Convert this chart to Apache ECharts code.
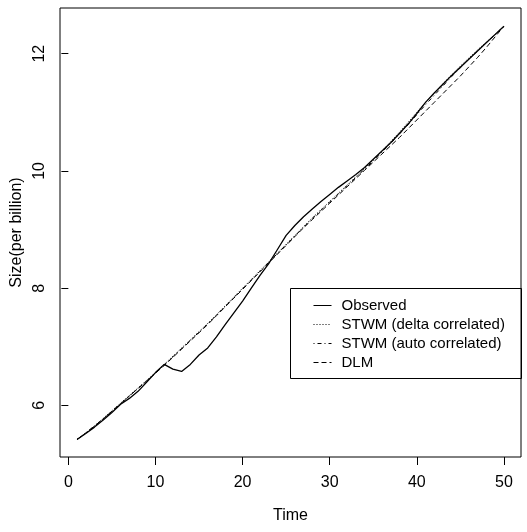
<!DOCTYPE html>
<html>
<head>
<meta charset="utf-8">
<script src="https://cdn.jsdelivr.net/npm/echarts@6/dist/echarts.min.js"></script>
<style>html,body{margin:0;padding:0;background:#fff;}#c{width:527px;height:532px;}</style>
</head>
<body>
<div id="c"></div>
<script>
const time = Array.from({length: 50}, (_, i) => i + 1);
const observed = [5.42,5.52,5.63,5.75,5.88,6.02,6.12,6.24,6.40,6.56,
  6.70,6.62,6.58,6.70,6.86,6.98,7.17,7.38,7.58,7.78,
  8.00,8.22,8.42,8.66,8.90,9.07,9.22,9.35,9.48,9.60,
  9.72,9.83,9.94,10.06,10.20,10.34,10.48,10.64,10.80,10.98,
  11.17,11.33,11.48,11.63,11.77,11.91,12.05,12.19,12.33,12.47];
const stwmDelta = [5.42,5.53,5.65,5.78,5.91,6.04,6.17,6.30,6.43,6.56,
  6.70,6.84,6.98,7.12,7.26,7.40,7.55,7.70,7.85,8.00,
  8.15,8.30,8.45,8.60,8.75,8.90,9.05,9.20,9.34,9.48,
  9.62,9.76,9.90,10.04,10.19,10.34,10.50,10.66,10.83,11.00,
  11.17,11.33,11.49,11.64,11.79,11.93,12.07,12.20,12.33,12.47];
const stwmAuto = [5.42,5.53,5.65,5.77,5.90,6.03,6.16,6.29,6.42,6.55,
  6.69,6.83,6.97,7.11,7.25,7.39,7.54,7.69,7.84,7.99,
  8.14,8.29,8.44,8.59,8.74,8.89,9.04,9.19,9.33,9.47,
  9.61,9.75,9.89,10.03,10.17,10.32,10.47,10.63,10.79,10.96,
  11.13,11.29,11.45,11.61,11.76,11.91,12.05,12.19,12.33,12.47];
const dlm = [5.42,5.53,5.65,5.77,5.90,6.03,6.16,6.29,6.42,6.55,
  6.68,6.82,6.96,7.10,7.24,7.38,7.53,7.68,7.83,7.98,
  8.13,8.28,8.43,8.58,8.73,8.88,9.03,9.17,9.31,9.45,
  9.59,9.73,9.87,10.01,10.15,10.29,10.43,10.57,10.72,10.87,
  11.02,11.17,11.32,11.47,11.62,11.78,11.94,12.11,12.29,12.47];
const xTicks = [0, 10, 20, 30, 40, 50];
const yTicks = [6, 8, 10, 12];
const names = ['Observed', 'STWM (delta correlated)', 'STWM (auto correlated)', 'DLM'];

const pair = arr => time.map((t, i) => [t, arr[i]]);
const font = 'Liberation Sans, Arial, Helvetica, sans-serif';

const chart = echarts.init(document.getElementById('c'), null, {renderer: 'canvas'});
function mk(name, arr, type, w) {
  return {
    name: name, type: 'line', data: pair(arr), symbol: 'none', showSymbol: false,
    lineStyle: {color: '#000', width: w, type: type}, itemStyle: {color: '#000'},
    animation: false, z: 3
  };
}
chart.setOption({
  animation: false,
  backgroundColor: '#fff',
  grid: {left: 60, right: 6, top: 8, bottom: 75, show: true, borderColor: '#000', borderWidth: 1, backgroundColor: 'transparent'},
  xAxis: {
    type: 'value', min: -0.96, max: 51.96,
    name: 'Time', nameLocation: 'middle', nameGap: 51,
    nameTextStyle: {fontFamily: font, fontSize: 16, color: '#000'},
    axisLine: {show: false},
    splitLine: {show: false},
    axisTick: {show: true, length: 8, lineStyle: {color: '#000'}, customValues: xTicks},
    axisLabel: {margin: 18, fontFamily: font, fontSize: 16, color: '#000', customValues: xTicks}
  },
  yAxis: {
    type: 'value', min: 5.12, max: 12.78,
    name: 'Size(per billion)', nameLocation: 'middle', nameGap: 30, nameRotate: 90,
    nameTextStyle: {fontFamily: font, fontSize: 16, color: '#000'},
    axisLine: {show: false},
    splitLine: {show: false},
    axisTick: {show: true, length: 7, lineStyle: {color: '#000'}, customValues: yTicks},
    axisLabel: {margin: 12, rotate: 90, fontFamily: font, fontSize: 16, color: '#000', customValues: yTicks}
  },
  legend: {
    show: true,
    data: names, orient: 'vertical', left: 290, top: 288,
    padding: [10, 0, 0, 23], itemGap: 4, itemWidth: 18, itemHeight: 14,
    itemStyle: {opacity: 0},
    lineStyle: {width: 1},
    textStyle: {fontFamily: font, fontSize: 15, color: '#000', padding: [0, 0, 0, 5]},
    selectedMode: false
  },
  graphic: [{
    type: 'rect', shape: {x: 290.5, y: 288.5, width: 231, height: 90},
    style: {fill: 'none', stroke: '#000', lineWidth: 1}, z: 10, silent: true
  }],
  series: [
    mk(names[0], observed, 'solid', 1.3),
    mk(names[1], stwmDelta, [1, 2], 1),
    mk(names[2], stwmAuto, [1, 3, 4, 3], 1),
    mk(names[3], dlm, [5, 3], 1)
  ]
});
</script>
</body>
</html>
